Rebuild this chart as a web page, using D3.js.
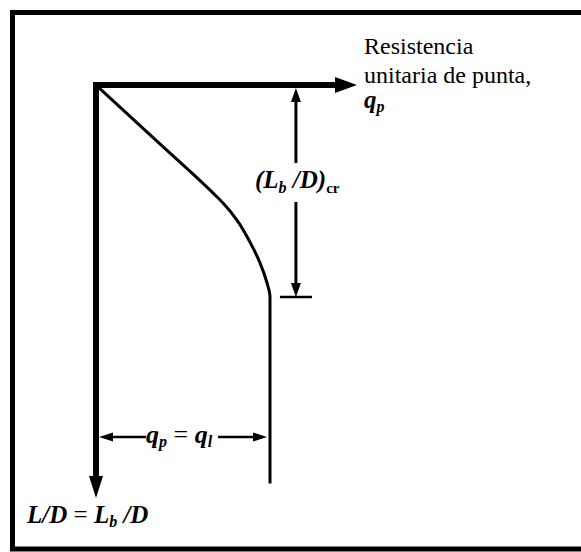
<!DOCTYPE html>
<html><head><meta charset="utf-8">
<script src="https://cdn.jsdelivr.net/npm/d3@7"></script>
<style>body{margin:0;background:#fff}svg{display:block}text{font-family:"Liberation Serif","Times New Roman",serif;fill:#000}</style>
</head><body><div id="c"></div>
<script>
// Schematic curve: unit point resistance q (x) vs depth ratio L/D (y), in units of q_l and (L_b/D)_cr
const qValues  = [0, 0.35, 0.672, 0.73, 0.81, 0.885, 0.943, 0.983, 1.0, 1.0];
const ldValues = [0, 0.265, 0.509, 0.557, 0.637, 0.741, 0.840, 0.934, 1.0, 1.88];
const qAxisMax = 1.5, ldAxisMax = 1.948;
const ldCritical = 1.0, qLimit = 1.0, dimQ = 1.149;
const labelTop = ["Resistencia", "unitaria de punta,"];

const W = 581, H = 552;
const svg = d3.select("#c").append("svg").attr("width", W).attr("height", H);
const x = d3.scaleLinear().domain([0, 1]).range([96, 270]);
const y = d3.scaleLinear().domain([0, 1]).range([85, 297]);

// frame (right side cut off)
svg.append("path").attr("d", `M${W+5},12.5 H12.5 V549 H${W+5}`).attr("fill","none").attr("stroke","#000").attr("stroke-width",5);

function tri(tip, dir, len, half){
  const [tx,ty]=tip; let p;
  if(dir==="r") p=[[tx,ty],[tx-len,ty-half],[tx-len,ty+half]];
  if(dir==="l") p=[[tx,ty],[tx+len,ty-half],[tx+len,ty+half]];
  if(dir==="d") p=[[tx,ty],[tx-half,ty-len],[tx+half,ty-len]];
  if(dir==="u") p=[[tx,ty],[tx-half,ty+len],[tx+half,ty+len]];
  svg.append("path").attr("d","M"+p.map(d=>d.join(",")).join("L")+"Z").attr("fill","#000");
}
function line(x1,y1,x2,y2,w){svg.append("line").attr("x1",x1).attr("y1",y1).attr("x2",x2).attr("y2",y2).attr("stroke","#000").attr("stroke-width",w);}

// axes
line(x(0)-3, y(0), x(qAxisMax)-18, y(0), 6);
tri([x(qAxisMax), y(0)], "r", 22, 8);
line(x(0), y(0)-3, x(0), y(ldAxisMax)-18, 6);
tri([x(0), y(ldAxisMax)], "d", 22, 7);

// curve
const pts = qValues.map((q,i)=>[q, ldValues[i]]);
svg.append("path").datum(pts)
  .attr("d", d3.line().x(d=>x(d[0])).y(d=>y(d[1])).curve(d3.curveMonotoneY))
  .attr("fill","none").attr("stroke","#000").attr("stroke-width",3);

// critical depth dimension
const dx = x(dimQ);
line(dx, y(0)+12, dx, 163, 3);
line(dx, 202, dx, y(ldCritical)-12, 3);
tri([dx, y(0)+3], "u", 14, 5);
tri([dx, y(ldCritical)], "d", 14, 5);
line(x(1.057), y(ldCritical), x(1.241), y(ldCritical), 2.5);

const t1 = svg.append("text").attr("x", 255).attr("y", 188).attr("font-size", 25).attr("font-style","italic").attr("font-weight","bold");
t1.append("tspan").text("(L");
t1.append("tspan").attr("font-size",16).attr("dy",5).text("b");
t1.append("tspan").attr("dy",-5).text(" /D)");
t1.append("tspan").attr("font-size",15).attr("dy",5).attr("font-style","normal").text("cr");

// q_p = q_l dimension
const yq = 437;
line(x(0)+12, yq, 146, yq, 2.5);
line(218, yq, x(qLimit)-12, yq, 2.5);
tri([x(0)+3, yq], "l", 14, 4.5);
tri([x(qLimit)-3, yq], "r", 14, 4.5);
const t2 = svg.append("text").attr("x", 146).attr("y", 443).attr("font-size", 26).attr("font-style","italic").attr("font-weight","bold");
t2.append("tspan").text("q");
t2.append("tspan").attr("font-size",16).attr("dy",4).text("p");
t2.append("tspan").attr("dy",-4).attr("font-style","normal").attr("font-weight","normal").text(" = ");
t2.append("tspan").text("q");
t2.append("tspan").attr("font-size",16).attr("dy",4).text("l");

// top right label
labelTop.forEach((s,i)=>svg.append("text").attr("x",364).attr("y",54+i*29).attr("font-size",24).text(s));
const t3 = svg.append("text").attr("x",364).attr("y",108).attr("font-size",25).attr("font-style","italic").attr("font-weight","bold");
t3.append("tspan").text("q");
t3.append("tspan").attr("font-size",16).attr("dy",4).text("p");

// bottom label
const t4 = svg.append("text").attr("x",27).attr("y",523).attr("font-size",25).attr("font-style","italic").attr("font-weight","bold");
t4.append("tspan").text("L/D");
t4.append("tspan").attr("font-style","normal").attr("font-weight","normal").text(" = ");
t4.append("tspan").text("L");
t4.append("tspan").attr("font-size",16).attr("dy",4).text("b");
t4.append("tspan").attr("dy",-4).text(" /D");
</script></body></html>
